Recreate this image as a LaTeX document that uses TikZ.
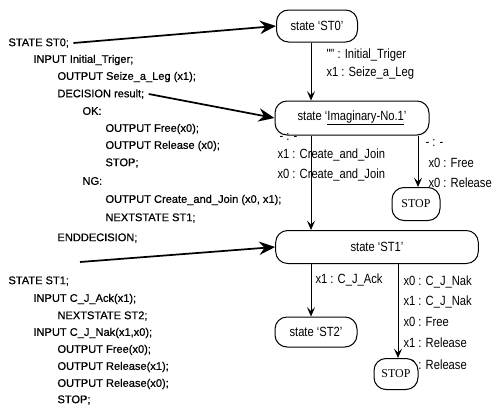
\documentclass[tikz,border=0pt]{standalone}
\usepackage{fontspec}
\setmainfont{Liberation Sans}[FakeBold=0.6]
\newfontfamily\lblfont[FakeStretch=0.84]{Liberation Sans}
\newfontfamily\stopfont{Liberation Serif}
\usetikzlibrary{arrows.meta}

\tikzset{every picture/.style={line width=0.75pt}}
\tikzset{
  code/.style={anchor=west,inner sep=0pt,font=\fontsize{8.3}{10}\selectfont},
  lbl/.style={anchor=west,inner sep=0pt,font=\lblfont\fontsize{10}{12}\selectfont},
  statebox/.style={draw,rounded corners=9pt,inner sep=0pt,fill=white,font=\lblfont\fontsize{10}{12}\selectfont},
  stopbox/.style={draw,rounded corners=9pt,inner sep=0pt,fill=white,font=\stopfont\fontsize{9}{11}\selectfont},
  flow/.style={line width=0.6pt,-{Stealth[length=7pt,width=6pt,inset=3pt]}},
  ptr/.style={line width=1.3pt,-{Stealth[length=12pt,width=10pt,inset=4pt]}}
}

\begin{document}
\begin{tikzpicture}[x=0.75pt,y=0.75pt,yscale=-1,xscale=1]
		\useasboundingbox (0,0) rectangle (500,407);
		
		%Text: SDL listing
		\node[code] (c0) at (8,43) {STATE ST0;};
		\node[code] (c1) at (33,60) {INPUT Initial\_Triger;};
		\node[code] (c2) at (57,77) {OUTPUT Seize\_a\_Leg (x1);};
		\node[code] (c3) at (57,94) {DECISION result;};
		\node[code] (c4) at (82,111) {OK:};
		\node[code] (c5) at (105,129) {OUTPUT Free(x0);};
		\node[code] (c6) at (105,146) {OUTPUT Release (x0);};
		\node[code] (c7) at (105,163) {STOP;};
		\node[code] (c8) at (82,181) {NG:};
		\node[code] (c9) at (105,200) {OUTPUT Create\_and\_Join (x0, x1);};
		\node[code] (c10) at (105,218) {NEXTSTATE ST1;};
		\node[code] (c11) at (57,238) {ENDDECISION;};
		\node[code] (c12) at (8,281) {STATE ST1;};
		\node[code] (c13) at (33,299) {INPUT C\_J\_Ack(x1);};
		\node[code] (c14) at (57,316) {NEXTSTATE ST2;};
		\node[code] (c15) at (33,333) {INPUT C\_J\_Nak(x1,x0);};
		\node[code] (c16) at (57,350) {OUTPUT Free(x0);};
		\node[code] (c17) at (57,367) {OUTPUT Release(x1);};
		\node[code] (c18) at (57,384) {OUTPUT Release(x0);};
		\node[code] (c19) at (57,400) {STOP;};
		\coordinate (c11b) at (80,262);
		
		%Shape: state boxes
		\node[statebox,minimum width=60.75pt,minimum height=24pt] (st0) at (317,26) {state ‘ST0’};
		\node[statebox,minimum width=115.5pt,minimum height=25.5pt] (imag) at (352,118) {state ‘\underline{Imaginary-No.1}’};
		\node[stopbox,minimum width=36pt,minimum height=24.75pt] (stopA) at (416,204) {STOP};
		\node[statebox,minimum width=152pt,minimum height=24.75pt] (st1) at (377,247) {state ‘ST1’};
		\node[statebox,minimum width=61.5pt,minimum height=22.5pt] (st2) at (316,332) {state ‘ST2’};
		
		%Text: transition labels
		\node[lbl] (t0) at (326,55) {"" : Initial\_Triger};
		\node[lbl] (t1) at (326,73) {x1 : Seize\_a\_Leg};
		\node[lbl] (t2) at (279,137) {- : -};
		\node[lbl] (t3) at (277,155) {x1 : Create\_and\_Join};
		\node[lbl] (t4) at (277,175) {x0 : Create\_and\_Join};
		\node[lbl] (t5) at (425,143) {- : -};
		\node[lbl] (t6) at (428,163) {x0 : Free};
		\node[lbl] (t7) at (428,183) {x0 : Release};
		\node[lbl] (t8) at (315,280) {x1 : C\_J\_Ack};
		\node[lbl] (t9) at (403,282) {x0 : C\_J\_Nak};
		\node[lbl] (t10) at (403,302) {x1 : C\_J\_Nak};
		\node[lbl] (t11) at (403,322) {x0 : Free};
		\node[lbl] (t12) at (403,343) {x1 : Release};
		\node[lbl] (t13) at (403,365) {x0 : Release};
		
		\node[stopbox,minimum width=33pt,minimum height=23.25pt] (stopB) at (396,374) {STOP};
		
		%Connectors
		\coordinate (colA) at (311,0);
		\coordinate (colB) at (418,0);
		\coordinate (colC) at (398,0);
		\draw[flow] (st0.south -| colA) -- (imag.north -| colA);
		\draw[flow] (imag.south -| colA) -- (st1.north -| colA);
		\draw[flow] (imag.south -| colB) -- (stopA.north -| colB);
		\draw[flow] (st1.south -| colA) -- (st2.north -| colA);
		\draw[flow] (st1.south -| colC) -- (stopB.north -| colC);
		
		\draw[ptr] ([xshift=3pt]c0.east) -- (st0.west);
		\draw[ptr] ([xshift=3pt]c3.east) -- (imag.west);
		\draw[ptr] (c11b) -- (st1.west);
		
	\end{tikzpicture}
\end{document}
